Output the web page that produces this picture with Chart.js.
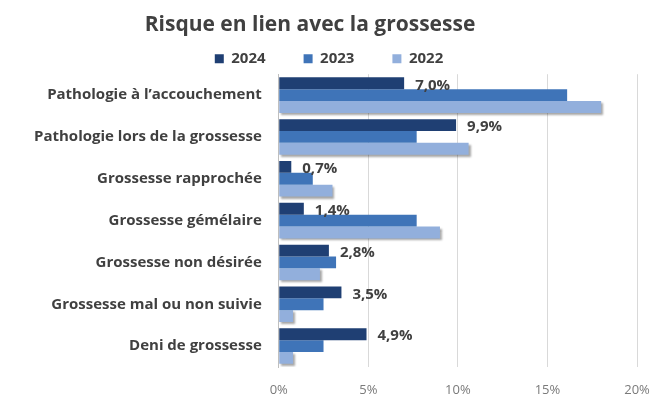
<!DOCTYPE html>
<html lang="fr">
<head>
<meta charset="utf-8">
<script src="https://cdn.jsdelivr.net/npm/chart.js@4"></script>
<style>
  html, body { margin: 0; padding: 0; background: #fff; }
  #wrap { width: 657px; height: 398px; position: relative; }
</style>
</head>
<body>
<div id="wrap"><canvas id="chart"></canvas></div>
<script>
// Données
const categories = [
  'Pathologie à l\u2019accouchement',
  'Pathologie lors de la grossesse',
  'Grossesse rapprochée',
  'Grossesse gémélaire',
  'Grossesse non désirée',
  'Grossesse mal ou non suivie',
  'Deni de grossesse'
];
const years = ['2024', '2023', '2022'];
const values2024 = [7.0, 9.9, 0.7, 1.4, 2.8, 3.5, 4.9];
const values2023 = [16.1, 7.7, 1.9, 7.7, 3.2, 2.5, 2.5];
const values2022 = [18.0, 10.6, 3.0, 9.0, 2.3, 0.8, 0.8];
const xTicks = [0, 5, 10, 15, 20];

const colors = ['#1f3f73', '#3f74b8', '#92afdc'];
const ink = '#404040';
const fontFamily = '"Open Sans", Lato, sans-serif';

function pct(v) {
  return v.toFixed(1).replace('.', ',') + '%';
}

// Ombre grise sous les barres 2022
const shadowPlugin = {
  id: 'shadow2022',
  beforeDatasetDraw(chart, args) {
    if (args.index !== 2) return;
    const ctx = chart.ctx;
    ctx.save();
    ctx.shadowColor = 'rgba(0,0,0,0.35)';
    ctx.shadowOffsetX = 2;
    ctx.shadowOffsetY = 2;
    ctx.shadowBlur = 2;
  },
  afterDatasetDraw(chart, args) {
    if (args.index !== 2) return;
    chart.ctx.restore();
  }
};

// Étiquettes des valeurs 2024
const labelPlugin = {
  id: 'labels2024',
  afterDatasetsDraw(chart) {
    const ctx = chart.ctx;
    const meta = chart.getDatasetMeta(0);
    ctx.save();
    ctx.font = 'bold 15px ' + fontFamily;
    ctx.fillStyle = ink;
    ctx.textAlign = 'left';
    ctx.textBaseline = 'middle';
    meta.data.forEach((bar, i) => {
      ctx.fillText(pct(values2024[i]), bar.x + 11, bar.y + 2);
    });
    ctx.restore();
  }
};

// Légende plus serrée en hauteur, titre et légende décalés vers la gauche comme l'original
const layoutTweaks = {
  id: 'layoutTweaks',
  beforeInit(chart) {
    const legend = chart.legend;
    if (!legend) return;
    const fit = legend.fit;
    legend.fit = function () {
      fit.call(this);
      this.height -= 2;
    };
  },
  afterLayout(chart) {
    const t = chart.titleBlock;
    if (t) { t.left -= 26; t.right -= 26; }
    const l = chart.legend;
    if (l) { l.left -= 7; l.right -= 7; }
  }
};

new Chart(document.getElementById('chart'), {
  type: 'bar',
  data: {
    labels: categories,
    datasets: [values2024, values2023, values2022].map((vals, i) => ({
      label: years[i],
      data: vals,
      backgroundColor: colors[i],
      borderWidth: 0,
      categoryPercentage: 0.85,
      barPercentage: 1.0
    }))
  },
  options: {
    indexAxis: 'y',
    responsive: true,
    maintainAspectRatio: false,
    animation: false,
    layout: { padding: { left: 25, right: 10, top: 0, bottom: 1 } },
    plugins: {
      title: {
        display: true,
        text: 'Risque en lien avec la grossesse',
        color: ink,
        font: { family: fontFamily, size: 21, weight: 'bold' },
        padding: { top: 12, bottom: -24 }
      },
      legend: {
        display: true,
        position: 'top',
        labels: {
          color: ink,
          boxWidth: 9,
          boxHeight: 9,
          padding: 38,
          font: { family: fontFamily, size: 15, weight: 'bold' }
        }
      },
      tooltip: { enabled: false }
    },
    scales: {
      x: {
        min: 0,
        max: 20,
        afterBuildTicks: (axis) => { axis.ticks = xTicks.map(v => ({ value: v })); },
        afterFit: (axis) => { axis.height = 30; axis.paddingRight = 20; },
        ticks: {
          color: '#7a7a7a',
          padding: 15,
          font: { family: fontFamily, size: 13 },
          callback: v => v + '%'
        },
        grid: { color: '#d9d9d9', drawTicks: false },
        border: { display: false }
      },
      y: {
        ticks: {
          color: ink,
          padding: 9,
          font: { family: fontFamily, size: 15, weight: 'bold' }
        },
        grid: { display: false },
        border: { color: '#bfbfbf' }
      }
    }
  },
  plugins: [shadowPlugin, labelPlugin, layoutTweaks]
});
</script>
</body>
</html>
